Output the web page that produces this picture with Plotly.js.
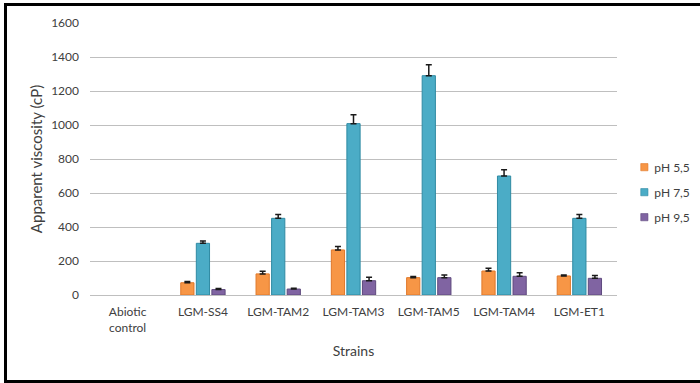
<!DOCTYPE html>
<html>
<head>
<meta charset="utf-8">
<script src="https://cdn.plot.ly/plotly-3.0.1.min.js"></script>
<style>
  html, body { margin: 0; padding: 0; background: #fff; }
  #wrap { position: relative; width: 700px; height: 383px; overflow: hidden; }
  #chart { position: absolute; left: 0; top: 0; width: 700px; height: 383px; }
  #frame { position: absolute; left: 4px; top: 3px; width: 720px; height: 374px;
           border: 3px solid #000; pointer-events: none; }
</style>
</head>
<body>
<div id="wrap">
  <div id="chart"></div>
  <div id="frame"></div>
</div>
<script>
const categories = ["Abiotic<br>control", "LGM-SS4", "LGM-TAM2", "LGM-TAM3", "LGM-TAM5", "LGM-TAM4", "LGM-ET1"];
const seriesNames = ["pH 5,5", "pH 7,5", "pH 9,5"];
const ph55 = [null, 72, 124, 265, 102, 141, 112];
const ph55Err = [0, 8, 16, 20, 7, 16, 6];
const ph75 = [null, 304, 451, 1008, 1290, 700, 451];
const ph75Err = [0, 13, 23, 53, 65, 37, 22];
const ph95 = [null, 32, 35, 84, 102, 110, 98];
const ph95Err = [0, 6, 4, 20, 16, 21, 16];
const yTicks = [0, 200, 400, 600, 800, 1000, 1200, 1400, 1600];

const fills = ["#F79646", "#4BACC6", "#8064A2"];
const edges = ["#E0782A", "#2F8AA3", "#5F4A7E"];
const vals = [ph55, ph75, ph95];
const errs = [ph55Err, ph75Err, ph95Err];

const traces = seriesNames.map((n, i) => ({
  type: "bar",
  name: n,
  x: categories,
  y: vals[i],
  legendgroup: "g" + i,
  marker: { color: fills[i], line: { color: edges[i], width: 1 } },
  error_y: { type: "data", symmetric: false, array: errs[i], arrayminus: errs[i].map(() => 0),
             visible: true, color: "#1a1a1a", thickness: 1.5, width: 3 }
}));

const fam = "Lato, 'Open Sans', sans-serif";
const font = { family: fam, size: 12, color: "#404040" };

const layout = {
  width: 700, height: 383,
  margin: { l: 90, r: 83, t: 23, b: 88, autoexpand: false },
  paper_bgcolor: "#fff", plot_bgcolor: "#fff",
  font: font,
  barmode: "group",
  bargap: 0.38,
  bargroupgap: 0.15,
  showlegend: true,
  legend: {
    x: 0.995, xanchor: "left", y: 0.378, yanchor: "middle",
    font: { family: fam, size: 12, color: "#404040" },
    traceorder: "grouped", tracegroupgap: 6, itemwidth: 30,
    bgcolor: "rgba(0,0,0,0)"
  },
  xaxis: {
    type: "category",
    showgrid: false, showline: false, zeroline: false,
    ticks: "", tickfont: font, ticklabelstandoff: 8,
    title: { text: "Strains", font: { family: fam, size: 14, color: "#404040" }, standoff: 12 },
    automargin: false
  },
  yaxis: {
    range: [0, 1600],
    tickvals: yTicks, ticktext: yTicks.map(String),
    showgrid: true, gridcolor: "#BFBFBF", gridwidth: 1,
    zeroline: true, zerolinecolor: "#BFBFBF", zerolinewidth: 1,
    showline: false, ticks: "", ticklabelstandoff: 10,
    tickfont: font,
    title: { text: "Apparent viscosity (cP)", font: { family: fam, size: 15, color: "#404040" }, standoff: 4 },
    automargin: false
  }
};

Plotly.newPlot("chart", traces, layout, { displayModeBar: false, staticPlot: true }).then(gd => {
  gd.querySelectorAll(".legend .legendpoints path").forEach(p => {
    p.setAttribute("transform", "translate(30,0) scale(0.6)");
  });
});
</script>
</body>
</html>
